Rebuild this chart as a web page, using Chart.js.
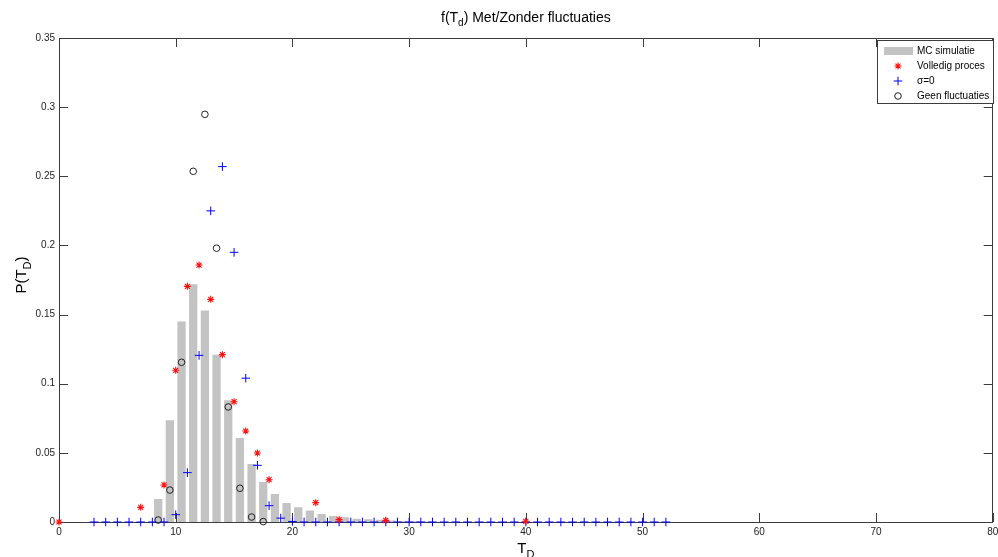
<!DOCTYPE html>
<html>
<head>
<meta charset="utf-8">
<title>f(Td) Met/Zonder fluctuaties</title>
<script src="https://cdn.jsdelivr.net/npm/chart.js@4.4.1/dist/chart.umd.min.js"></script>
<style>
  html, body { margin: 0; padding: 0; background: #fff; }
</style>
</head>
<body>
<canvas id="fig" width="998" height="557"></canvas>
<script>
// histogram of the Monte Carlo run (bin centres and probabilities)
const mcT = [8.5, 9.5, 10.5, 11.5, 12.5, 13.5, 14.5, 15.5, 16.5, 17.5, 18.5, 19.5, 20.5, 21.5,
             22.5, 23.5, 24.5, 25.5, 26.5, 27.5, 28.5, 29.5, 30.5, 31.5]
const mcP = [0.0166, 0.0735, 0.145, 0.172, 0.153, 0.121, 0.088, 0.0607, 0.042, 0.029, 0.0203, 0.0137, 0.0106, 0.0083,
             0.0057, 0.0043, 0.0034, 0.0024, 0.0019, 0.0017, 0.0011, 0.0008, 0.0005, 0.0003]

// full process
const volT = [0, 7, 9, 10, 11, 12, 13, 14, 15, 16, 17, 18, 22, 24, 28, 40]
const volP = [0, 0.0106, 0.0268, 0.1097, 0.1704, 0.1858, 0.161, 0.121, 0.087, 0.0658, 0.0499, 0.0306, 0.014, 0.0017, 0.0012, 0.0005]

// sigma = 0
const sigT = [3, 4, 5, 6, 7, 8, 9, 10, 11, 12, 13, 14, 15, 16, 17, 18, 19, 20, 21, 22, 23, 24, 25, 26, 27,
              28, 29, 30, 31, 32, 33, 34, 35, 36, 37, 38, 39, 40, 41, 42, 43, 44, 45, 46, 47, 48, 49, 50, 51, 52]
const sigP = [0, 0, 0, 0, 0, 0, 0, 0.0053, 0.0357, 0.1205, 0.225, 0.257, 0.195, 0.104, 0.041, 0.0118, 0.0028, 0.0004, 0, 0, 0, 0, 0, 0, 0,
              0, 0, 0, 0, 0, 0, 0, 0, 0, 0, 0, 0, 0, 0, 0, 0, 0, 0, 0, 0, 0, 0, 0, 0, 0]

// no fluctuations
const geenT = [8.5, 9.5, 10.5, 11.5, 12.5, 13.5, 14.5, 15.5, 16.5, 17.5]
const geenP = [0.0014, 0.0231, 0.1155, 0.2536, 0.2948, 0.198, 0.0832, 0.0244, 0.0036, 0.0003]

const xTicks = [0, 10, 20, 30, 40, 50, 60, 70, 80]
const xTickLabels = ['0', '10', '20', '30', '40', '50', '60', '70', '80']
const yTicks = [0, 0.05, 0.1, 0.15, 0.2, 0.25, 0.3, 0.35]
const yTickLabels = ['0', '0.05', '0.1', '0.15', '0.2', '0.25', '0.3', '0.35']

const FONT = '"Liberation Sans", Arial, sans-serif'
const INK = '#3c3c3c'
const TICK = 9

const pts = (xs, ys) => xs.map((x, i) => ({x: x, y: ys[i]}))

// text with one subscripted part, centred on x
function richText(ctx, parts, x, y, size) {
  const small = Math.round(size * 0.72)
  let w = 0
  parts.forEach(p => {
    ctx.font = (p.sub ? small : size) + 'px ' + FONT
    w += ctx.measureText(p.t).width
  })
  let cx = x - w / 2
  parts.forEach(p => {
    ctx.font = (p.sub ? small : size) + 'px ' + FONT
    ctx.fillText(p.t, cx, p.sub ? y + size * 0.3 : y)
    cx += ctx.measureText(p.t).width
  })
}

// box with inward tick marks on all four sides
const boxAxes = {
  id: 'boxAxes',
  beforeDatasetsDraw(chart) {
    const {ctx, chartArea: a, scales: {x, y}} = chart
    ctx.save()
    ctx.strokeStyle = INK
    ctx.lineWidth = 1
    ctx.beginPath()
    xTicks.forEach(v => {
      const px = Math.round(x.getPixelForValue(v)) + 0.5
      ctx.moveTo(px, a.bottom); ctx.lineTo(px, a.bottom - TICK)
      ctx.moveTo(px, a.top); ctx.lineTo(px, a.top + TICK)
    })
    yTicks.forEach(v => {
      const py = Math.round(y.getPixelForValue(v)) + 0.5
      ctx.moveTo(a.left, py); ctx.lineTo(a.left + TICK, py)
      ctx.moveTo(a.right, py); ctx.lineTo(a.right - TICK, py)
    })
    ctx.stroke()
    ctx.strokeRect(Math.round(a.left) + 0.5, Math.round(a.top) + 0.5,
      Math.round(a.right - a.left) - 1, Math.round(a.bottom - a.top))
    ctx.restore()
  },
  afterDraw(chart) {
    const {ctx, chartArea: a} = chart
    const midX = (a.left + a.right) / 2
    ctx.save()
    ctx.fillStyle = '#000'
    ctx.textBaseline = 'alphabetic'
    richText(ctx, [{t: 'f(T'}, {t: 'd', sub: true}, {t: ') Met/Zonder fluctuaties'}], midX, 22, 14)
    richText(ctx, [{t: 'T'}, {t: 'D', sub: true}], midX, 553, 15)
    ctx.translate(26, (a.top + a.bottom) / 2 - 5)
    ctx.rotate(-Math.PI / 2)
    richText(ctx, [{t: 'P(T'}, {t: 'D', sub: true}, {t: ')'}], 0, 0, 15)
    ctx.restore()

    // legend
    const ds = chart.data.datasets
    const L = 877, T = 40, W = 116, H = 63
    const rows = [51, 66, 81, 96]
    ctx.save()
    ctx.fillStyle = '#fff'
    ctx.fillRect(L, T, W, H)
    ctx.strokeStyle = INK
    ctx.lineWidth = 1
    ctx.strokeRect(L + 0.5, T + 0.5, W, H)
    ctx.font = '10px ' + FONT
    ctx.textBaseline = 'middle'
    ds.forEach((d, i) => {
      const ry = rows[i]
      if (d.type === 'bar') {
        ctx.fillStyle = d.backgroundColor
        ctx.fillRect(884, ry - 4, 29, 8)
      } else {
        ctx.strokeStyle = d.borderColor
        ctx.fillStyle = 'rgba(0,0,0,0)'
        ctx.lineWidth = d.borderWidth
        Chart.helpers.drawPoint(ctx, {pointStyle: d.pointStyle, radius: d.radius, rotation: 0, borderWidth: d.borderWidth}, 898, ry)
      }
      ctx.fillStyle = '#000'
      ctx.fillText(d.label, 917, ry + 0.5)
    })
    ctx.restore()
  }
}

new Chart(document.getElementById('fig'), {
  type: 'bar',
  data: {
    datasets: [{
      type: 'bar',
      label: 'MC simulatie',
      data: pts(mcT, mcP),
      backgroundColor: '#c3c3c3',
      borderWidth: 0,
      categoryPercentage: 1,
      barPercentage: 0.71,
      order: 10
    }, {
      type: 'scatter',
      label: 'Volledig proces',
      data: pts(volT, volP),
      pointStyle: 'star',
      radius: 3.5,
      borderColor: '#ff1010',
      backgroundColor: 'rgba(0,0,0,0)',
      borderWidth: 1.1,
      clip: false
    }, {
      type: 'scatter',
      label: 'σ=0',
      data: pts(sigT, sigP),
      pointStyle: 'cross',
      radius: 4.3,
      borderColor: '#0000ff',
      backgroundColor: 'rgba(0,0,0,0)',
      borderWidth: 1,
      clip: false
    }, {
      type: 'scatter',
      label: 'Geen fluctuaties',
      data: pts(geenT, geenP),
      pointStyle: 'circle',
      radius: 3.3,
      borderColor: '#222',
      backgroundColor: 'rgba(0,0,0,0)',
      borderWidth: 1,
      clip: false
    }]
  },
  options: {
    responsive: false,
    animation: false,
    events: [],
    layout: {
      padding: {top: 38, right: 1, left: 0, bottom: 0}
    },
    plugins: {
      legend: {display: false},
      tooltip: {enabled: false},
      title: {display: false}
    },
    scales: {
      x: {
        type: 'linear',
        min: 0,
        max: 80,
        offset: false,
        grid: {display: false, drawTicks: false},
        border: {display: false},
        afterBuildTicks: s => { s.ticks = xTicks.map(v => ({value: v})) },
        afterFit: s => { s.height = 35; s.paddingLeft = 0; s.paddingRight = 0 },
        ticks: {
          padding: 4,
          color: '#222',
          maxRotation: 0,
          font: {family: FONT, size: 10},
          callback: (v, i) => xTickLabels[i]
        }
      },
      y: {
        type: 'linear',
        min: 0,
        max: 0.35,
        grid: {display: false, drawTicks: false},
        border: {display: false},
        afterBuildTicks: s => { s.ticks = yTicks.map(v => ({value: v})) },
        afterFit: s => { s.width = 59 },
        ticks: {
          padding: 4,
          color: '#222',
          font: {family: FONT, size: 10},
          callback: (v, i) => yTickLabels[i]
        }
      }
    }
  },
  plugins: [boxAxes]
})
</script>
</body>
</html>
